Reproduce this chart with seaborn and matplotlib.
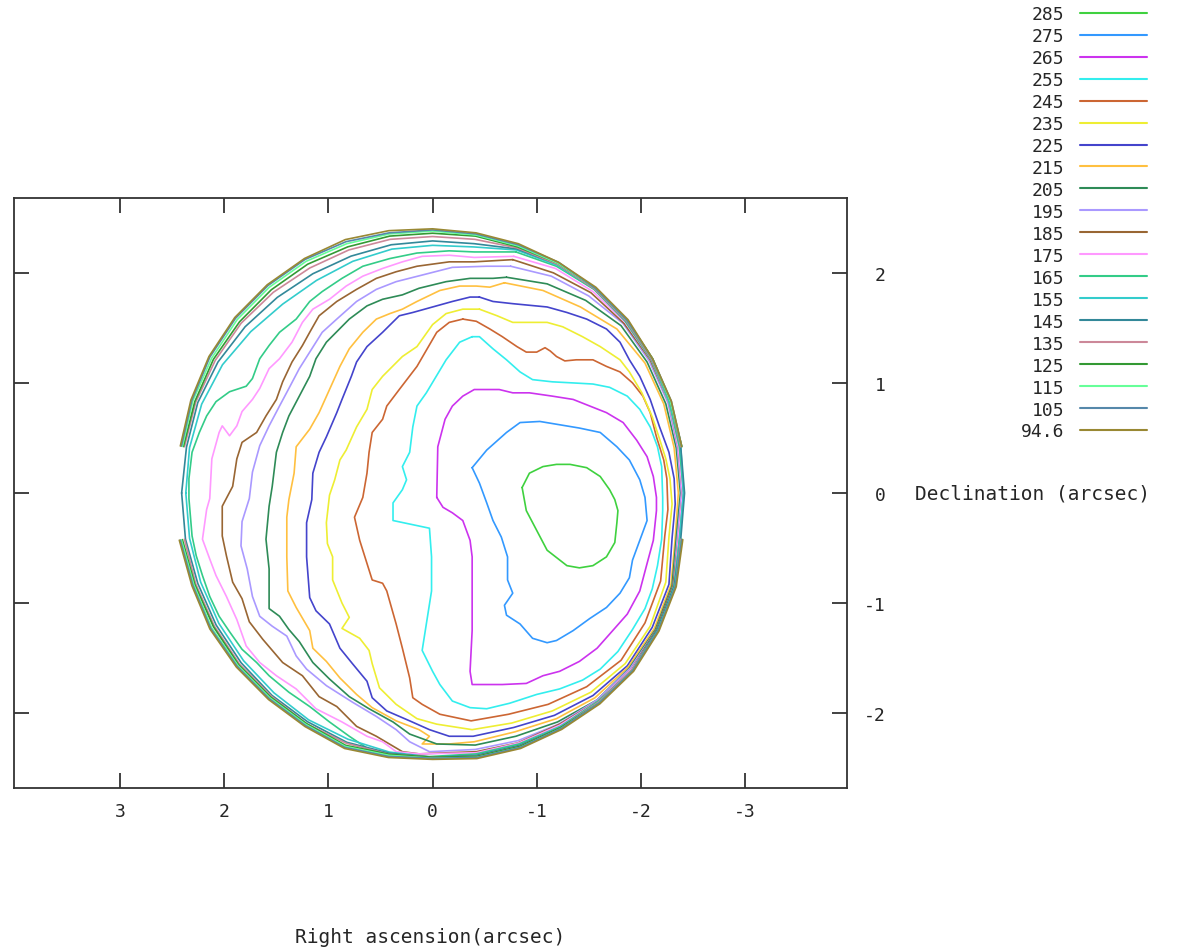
import numpy as np
import pandas as pd
import matplotlib
matplotlib.use("Agg")
import matplotlib.pyplot as plt
import seaborn as sns

sns.set_style("white")
plt.rcParams["font.family"] = ["DejaVu Sans Mono"]
plt.rcParams["axes.unicode_minus"] = False

nan = np.nan

# contour levels as listed in the key (top to bottom) and their line colours
levels = ["285", "275", "265", "255", "245", "235", "225", "215", "205", "195",
          "185", "175", "165", "155", "145", "135", "125", "115", "105", "94.6"]
colors = ["#3fd13f", "#3399ff", "#cc33ee", "#33eeee", "#cc6633", "#eeee33", "#4444cc",
          "#ffc040", "#2e8b57", "#aa99ff", "#996633", "#ff99ff", "#33cc88", "#33cccc",
          "#338899", "#cc8899", "#339933", "#66ff99", "#5588aa", "#998833"]

# closed contours: (RA offset, Dec offset) in arcsec
c285 = [(-0.86, 0.05), (-0.90, -0.16), (-1.00, -0.34), (-1.10, -0.52), (-1.29, -0.66),
        (-1.41, -0.68), (-1.54, -0.66), (-1.67, -0.58), (-1.75, -0.45), (-1.77, -0.27),
        (-1.78, -0.16), (-1.75, -0.06), (-1.70, 0.03), (-1.61, 0.15), (-1.48, 0.23),
        (-1.32, 0.26), (-1.19, 0.26), (-1.06, 0.24), (-0.93, 0.18)]

c275 = [(-0.38, 0.23), (-0.52, 0.39), (-0.71, 0.55), (-0.84, 0.64), (-1.03, 0.65),
        (-1.22, 0.62), (-1.41, 0.59), (-1.61, 0.55), (-1.77, 0.42), (-1.89, 0.30),
        (-1.99, 0.12), (-2.04, -0.04), (-2.06, -0.25), (-1.99, -0.43), (-1.92, -0.61),
        (-1.89, -0.77), (-1.80, -0.91), (-1.67, -1.04), (-1.51, -1.14), (-1.35, -1.25),
        (-1.19, -1.34), (-1.10, -1.36), (-0.96, -1.32), (-0.84, -1.19), (-0.71, -1.11),
        (-0.69, -1.02), (-0.77, -0.91), (-0.72, -0.79), (-0.72, -0.58), (-0.66, -0.40),
        (-0.58, -0.25), (-0.52, -0.09), (-0.45, 0.09)]

c265 = [(-0.04, -0.04), (-0.05, 0.42), (-0.12, 0.67), (-0.19, 0.79), (-0.29, 0.88),
        (-0.40, 0.94), (-0.64, 0.94), (-0.77, 0.91), (-0.93, 0.91), (-1.15, 0.88),
        (-1.35, 0.85), (-1.51, 0.79), (-1.67, 0.73), (-1.83, 0.64), (-1.96, 0.48),
        (-2.06, 0.33), (-2.12, 0.15), (-2.15, -0.04), (-2.15, -0.16), (-2.12, -0.43),
        (-2.06, -0.64), (-1.99, -0.89), (-1.87, -1.10), (-1.73, -1.25), (-1.58, -1.41),
        (-1.41, -1.53), (-1.22, -1.62), (-1.06, -1.66), (-0.90, -1.73), (-0.67, -1.74),
        (-0.38, -1.74), (-0.36, -1.62), (-0.38, -1.25), (-0.38, -0.89), (-0.38, -0.58),
        (-0.36, -0.43), (-0.29, -0.25), (-0.19, -0.18), (-0.10, -0.13)]

c255 = [(-0.38, 1.42), (-0.26, 1.37), (-0.13, 1.21), (0.06, 0.91), (0.15, 0.79),
        (0.19, 0.60), (0.22, 0.37), (0.29, 0.24), (0.25, 0.12), (0.29, 0.03),
        (0.38, -0.09), (0.38, -0.25), (0.03, -0.32), (0.01, -0.58), (0.01, -0.89),
        (0.06, -1.19), (0.10, -1.43), (0.00, -1.62), (-0.07, -1.74), (-0.19, -1.89),
        (-0.36, -1.95), (-0.52, -1.96), (-0.74, -1.91), (-1.00, -1.83), (-1.22, -1.78),
        (-1.44, -1.70), (-1.61, -1.60), (-1.78, -1.44), (-1.92, -1.24), (-2.04, -1.05),
        (-2.11, -0.87), (-2.16, -0.66), (-2.20, -0.42), (-2.21, -0.16), (-2.21, -0.04),
        (-2.20, 0.24), (-2.16, 0.42), (-2.09, 0.60), (-1.99, 0.76), (-1.87, 0.88),
        (-1.70, 0.96), (-1.54, 0.99), (-1.35, 1.00), (-1.15, 1.01), (-0.96, 1.03),
        (-0.84, 1.10), (-0.71, 1.21), (-0.58, 1.31), (-0.45, 1.42)]

c245 = [(-0.29, 1.58), (-0.16, 1.55), (-0.04, 1.46), (0.15, 1.15), (0.32, 0.94),
        (0.44, 0.79), (0.48, 0.67), (0.58, 0.55), (0.61, 0.37), (0.63, 0.18),
        (0.67, -0.04), (0.75, -0.22), (0.70, -0.43), (0.63, -0.64), (0.58, -0.79),
        (0.48, -0.82), (0.44, -0.89), (0.35, -1.19), (0.29, -1.41), (0.22, -1.68),
        (0.19, -1.86), (0.10, -1.92), (-0.07, -2.01), (-0.37, -2.07), (-0.73, -2.01),
        (-1.11, -1.92), (-1.48, -1.76), (-1.81, -1.52), (-2.04, -1.18), (-2.19, -0.80),
        (-2.23, -0.39), (-2.26, -0.15), (-2.25, 0.13), (-2.22, 0.30), (-2.15, 0.51),
        (-2.09, 0.73), (-2.02, 0.88), (-1.92, 1.00), (-1.80, 1.10), (-1.67, 1.15),
        (-1.54, 1.21), (-1.38, 1.21), (-1.27, 1.20), (-1.19, 1.24), (-1.13, 1.29),
        (-1.08, 1.32), (-1.00, 1.28), (-0.90, 1.28), (-0.81, 1.33), (-0.67, 1.42),
        (-0.55, 1.49), (-0.42, 1.56)]

c235 = [(-0.45, 1.67), (-0.29, 1.67), (-0.13, 1.63), (0.00, 1.53), (0.15, 1.33),
        (0.29, 1.24), (0.48, 1.06), (0.58, 0.94), (0.63, 0.76), (0.73, 0.60),
        (0.83, 0.39), (0.89, 0.30), (0.94, 0.12), (0.99, -0.02), (1.02, -0.27),
        (1.01, -0.46), (0.96, -0.58), (0.96, -0.79), (0.87, -1.00), (0.80, -1.13),
        (0.87, -1.23), (0.70, -1.32), (0.61, -1.43), (0.58, -1.55), (0.51, -1.77),
        (0.35, -1.92), (0.15, -2.05), (-0.04, -2.10), (-0.38, -2.15), (-0.76, -2.09),
        (-1.15, -1.98), (-1.52, -1.81), (-1.85, -1.55), (-2.09, -1.21), (-2.24, -0.81),
        (-2.27, -0.40), (-2.30, -0.10), (-2.28, 0.13), (-2.24, 0.31), (-2.18, 0.49),
        (-2.11, 0.69), (-2.01, 0.91), (-1.89, 1.10), (-1.80, 1.21), (-1.61, 1.33),
        (-1.44, 1.42), (-1.25, 1.51), (-1.10, 1.55), (-0.77, 1.55), (-0.62, 1.61)]

c225 = [(-0.45, 1.78), (-0.36, 1.78), (-0.19, 1.74), (0.00, 1.69), (0.19, 1.64),
        (0.32, 1.61), (0.48, 1.46), (0.63, 1.33), (0.73, 1.19), (0.78, 1.06),
        (0.87, 0.85), (0.92, 0.73), (1.02, 0.51), (1.09, 0.37), (1.15, 0.18),
        (1.16, -0.06), (1.21, -0.27), (1.21, -0.58), (1.18, -0.95), (1.12, -1.07),
        (0.99, -1.19), (0.89, -1.41), (0.77, -1.55), (0.63, -1.71), (0.58, -1.86),
        (0.44, -1.98), (0.22, -2.07), (0.03, -2.15), (-0.16, -2.21), (-0.39, -2.21),
        (-0.78, -2.13), (-1.17, -2.02), (-1.54, -1.84), (-1.87, -1.57), (-2.11, -1.22),
        (-2.27, -0.83), (-2.30, -0.41), (-2.33, -0.10), (-2.32, 0.13), (-2.27, 0.37),
        (-2.18, 0.60), (-2.09, 0.85), (-1.99, 1.06), (-1.89, 1.21), (-1.80, 1.37),
        (-1.67, 1.49), (-1.48, 1.58), (-1.29, 1.64), (-1.10, 1.69), (-0.77, 1.72),
        (-0.58, 1.74)]

c215 = [(-0.69, 1.91), (-0.55, 1.87), (-0.42, 1.88), (-0.26, 1.88), (-0.07, 1.84),
        (0.15, 1.74), (0.29, 1.67), (0.41, 1.63), (0.54, 1.58), (0.67, 1.46),
        (0.80, 1.31), (0.89, 1.15), (0.99, 0.94), (1.09, 0.73), (1.18, 0.58),
        (1.31, 0.42), (1.33, 0.18), (1.38, -0.06), (1.40, -0.22), (1.40, -0.58),
        (1.39, -0.89), (1.31, -1.04), (1.18, -1.25), (1.15, -1.41), (1.02, -1.53),
        (0.89, -1.68), (0.73, -1.83), (0.58, -1.95), (0.35, -2.07), (0.13, -2.15),
        (0.03, -2.21), (0.10, -2.28), (-0.16, -2.28), (-0.40, -2.26), (-0.79, -2.17),
        (-1.19, -2.05), (-1.56, -1.86), (-1.88, -1.58), (-2.13, -1.23), (-2.29, -0.83),
        (-2.33, -0.41), (-2.36, 0.00), (-2.32, 0.41), (-2.22, 0.81), (-2.04, 1.18),
        (-1.77, 1.49), (-1.42, 1.69), (-1.06, 1.84)]

c205 = [(-0.71, 1.96), (-0.58, 1.95), (-0.36, 1.95), (-0.13, 1.92), (0.13, 1.86),
        (0.29, 1.80), (0.48, 1.76), (0.63, 1.70), (0.80, 1.58), (1.02, 1.37),
        (1.12, 1.22), (1.18, 1.06), (1.28, 0.88), (1.38, 0.70), (1.44, 0.55),
        (1.50, 0.37), (1.54, 0.06), (1.57, -0.12), (1.60, -0.42), (1.57, -0.69),
        (1.57, -1.05), (1.47, -1.12), (1.38, -1.24), (1.28, -1.35), (1.15, -1.54),
        (0.99, -1.69), (0.80, -1.85), (0.61, -1.96), (0.38, -2.08), (0.22, -2.19),
        (-0.04, -2.28), (-0.41, -2.29), (-0.80, -2.21), (-1.20, -2.08), (-1.58, -1.88),
        (-1.89, -1.59), (-2.14, -1.24), (-2.30, -0.84), (-2.34, -0.41), (-2.38, 0.00),
        (-2.34, 0.41), (-2.24, 0.81), (-2.06, 1.19), (-1.81, 1.52), (-1.47, 1.75),
        (-1.10, 1.90)]

c195 = [(-0.75, 2.06), (-0.52, 2.06), (-0.19, 2.05), (0.10, 1.98), (0.35, 1.92),
        (0.54, 1.85), (0.73, 1.74), (0.92, 1.58), (1.06, 1.46), (1.18, 1.28),
        (1.28, 1.13), (1.38, 0.95), (1.47, 0.79), (1.57, 0.61), (1.66, 0.43),
        (1.73, 0.19), (1.76, -0.05), (1.83, -0.26), (1.84, -0.48), (1.78, -0.69),
        (1.73, -0.94), (1.66, -1.12), (1.54, -1.21), (1.40, -1.30), (1.31, -1.48),
        (1.21, -1.60), (1.02, -1.75), (0.77, -1.90), (0.54, -2.03), (0.35, -2.15),
        (0.22, -2.26), (0.03, -2.35), (-0.41, -2.33), (-0.82, -2.25), (-1.21, -2.10),
        (-1.58, -1.88), (-1.90, -1.59), (-2.15, -1.24), (-2.31, -0.84), (-2.35, -0.42),
        (-2.39, 0.00), (-2.35, 0.42), (-2.26, 0.82), (-2.08, 1.20), (-1.83, 1.54),
        (-1.50, 1.79), (-1.14, 1.97)]

c185 = [(-0.77, 2.12), (-0.40, 2.10), (-0.16, 2.10), (0.15, 2.06), (0.35, 2.01),
        (0.54, 1.95), (0.73, 1.85), (0.92, 1.74), (1.09, 1.61), (1.18, 1.46),
        (1.25, 1.34), (1.35, 1.19), (1.44, 1.01), (1.50, 0.85), (1.60, 0.70),
        (1.69, 0.55), (1.83, 0.46), (1.88, 0.31), (1.92, 0.06), (2.02, -0.12),
        (2.02, -0.39), (1.98, -0.57), (1.92, -0.81), (1.83, -0.96), (1.76, -1.17),
        (1.63, -1.33), (1.44, -1.54), (1.25, -1.66), (1.09, -1.85), (0.92, -1.94),
        (0.73, -2.12), (0.54, -2.21), (0.29, -2.35), (0.13, -2.37), (-0.42, -2.35),
        (-0.82, -2.27), (-1.22, -2.10), (-1.59, -1.89), (-1.91, -1.60), (-2.15, -1.24),
        (-2.31, -0.84), (-2.36, -0.42), (-2.40, 0.00), (-2.36, 0.42), (-2.27, 0.82),
        (-2.09, 1.21), (-1.84, 1.54), (-1.52, 1.82), (-1.16, 2.00)]

c175 = [(-0.78, 2.15), (-0.40, 2.14), (-0.16, 2.16), (0.10, 2.15), (0.29, 2.10),
        (0.48, 2.04), (0.67, 1.97), (0.83, 1.88), (0.99, 1.76), (1.15, 1.67),
        (1.25, 1.55), (1.35, 1.37), (1.47, 1.22), (1.57, 1.13), (1.66, 0.95),
        (1.73, 0.85), (1.83, 0.74), (1.88, 0.61), (1.95, 0.52), (2.02, 0.61),
        (2.05, 0.55), (2.12, 0.31), (2.14, -0.05), (2.17, -0.15), (2.21, -0.42),
        (2.14, -0.60), (2.08, -0.75), (1.98, -0.94), (1.88, -1.15), (1.79, -1.39),
        (1.66, -1.54), (1.50, -1.66), (1.31, -1.78), (1.12, -1.96), (0.87, -2.08),
        (0.63, -2.21), (0.48, -2.26), (0.35, -2.35), (0.13, -2.37), (-0.42, -2.36),
        (-0.83, -2.27), (-1.22, -2.11), (-1.59, -1.89), (-1.91, -1.60), (-2.16, -1.25),
        (-2.32, -0.84), (-2.36, -0.42), (-2.40, 0.00), (-2.36, 0.42), (-2.27, 0.82),
        (-2.10, 1.21), (-1.85, 1.55), (-1.54, 1.83), (-1.18, 2.04)]

c165 = [(-0.80, 2.19), (-0.40, 2.19), (-0.16, 2.20), (0.15, 2.18), (0.41, 2.13),
        (0.67, 2.06), (0.87, 1.95), (1.06, 1.83), (1.18, 1.74), (1.31, 1.58),
        (1.47, 1.46), (1.57, 1.34), (1.66, 1.22), (1.73, 1.04), (1.79, 0.97),
        (1.95, 0.92), (2.08, 0.83), (2.17, 0.70), (2.24, 0.55), (2.31, 0.37),
        (2.34, 0.13), (2.34, -0.05), (2.31, -0.39), (2.27, -0.57), (2.21, -0.75),
        (2.14, -0.94), (2.05, -1.12), (1.95, -1.26), (1.83, -1.42), (1.69, -1.54),
        (1.57, -1.66), (1.38, -1.81), (1.18, -1.94), (0.99, -2.08), (0.80, -2.21),
        (0.61, -2.33), (0.48, -2.39), (0.13, -2.40), (-0.42, -2.37), (-0.83, -2.28),
        (-1.23, -2.12), (-1.59, -1.89), (-1.92, -1.61), (-2.16, -1.25), (-2.32, -0.84),
        (-2.37, -0.42), (-2.41, 0.00), (-2.37, 0.42), (-2.27, 0.83), (-2.10, 1.21),
        (-1.85, 1.56), (-1.55, 1.85), (-1.19, 2.06)]

# rim contours hugging the limb: radius (arcsec) every 10 deg, 0 deg = +RA,
# counter-clockwise; nan where the contour is broken
rim_deg = list(range(0, 360, 10))
rim155 = [2.37, 2.37, 2.36, 2.33, 2.28, 2.24, 2.23, 2.24, 2.25, 2.25, 2.27, 2.35,
          2.39, 2.42, 2.43, 2.43, 2.42, 2.42, 2.41, 2.41, 2.47, 2.49, 2.50, 2.48,
          2.45, 2.44, 2.42, 2.40, 2.39, 2.38, 2.38, 2.37, 2.37, 2.37, 2.37, 2.37]
rim145 = [2.41, 2.40, 2.40, 2.38, 2.35, 2.32, 2.30, 2.29, 2.29, 2.29, 2.30, 2.36,
          2.40, 2.42, 2.43, 2.43, 2.43, 2.42, 2.42, 2.42, 2.47, 2.49, 2.50, 2.48,
          2.46, 2.44, 2.42, 2.40, 2.40, 2.41, 2.40, 2.40, 2.40, 2.40, 2.40, 2.41]
rim135 = [nan, 2.42, 2.42, 2.41, 2.40, 2.38, 2.36, 2.35, 2.34, 2.33, 2.34, 2.37,
          2.40, 2.42, 2.43, 2.43, 2.43, 2.42, nan, 2.42, 2.48, 2.50, 2.50, 2.48,
          2.46, 2.45, 2.43, 2.40, 2.41, 2.42, 2.42, 2.41, 2.42, 2.42, 2.42, 2.42]
rim125 = [nan, 2.43, 2.43, 2.43, 2.42, 2.41, 2.40, 2.38, 2.37, 2.36, 2.37, 2.38,
          2.41, 2.43, 2.44, 2.44, 2.43, 2.43, nan, 2.43, 2.48, 2.50, 2.51, 2.49,
          2.46, 2.45, 2.43, 2.40, 2.41, 2.44, 2.42, 2.42, 2.43, 2.43, 2.43, 2.44]
rim115 = [nan, 2.44, 2.45, 2.45, 2.45, 2.44, 2.43, 2.41, 2.39, 2.38, 2.38, 2.39,
          2.41, 2.43, 2.44, 2.44, 2.43, 2.43, nan, 2.43, 2.48, 2.50, 2.51, 2.49,
          2.47, 2.46, 2.44, 2.41, 2.42, 2.45, 2.43, 2.43, 2.44, 2.45, 2.44, 2.45]
rim105 = [nan, 2.45, 2.46, 2.47, 2.47, 2.46, 2.45, 2.43, 2.40, 2.39, 2.39, 2.40,
          2.42, 2.43, 2.44, 2.44, 2.44, 2.43, nan, 2.43, 2.48, 2.50, 2.51, 2.49,
          2.47, 2.46, 2.44, 2.41, 2.43, 2.46, 2.44, 2.44, 2.45, 2.46, 2.45, 2.46]
rim946 = [nan, 2.46, 2.47, 2.48, 2.48, 2.47, 2.46, 2.45, 2.42, 2.40, 2.40, 2.41,
          2.42, 2.44, 2.45, 2.44, 2.44, 2.43, nan, 2.44, 2.49, 2.51, 2.52, 2.50,
          2.48, 2.47, 2.45, 2.42, 2.44, 2.47, 2.45, 2.45, 2.46, 2.47, 2.46, 2.47]

paths = {"285": c285, "275": c275, "265": c265, "255": c255, "245": c245,
         "235": c235, "225": c225, "215": c215, "205": c205, "195": c195,
         "185": c185, "175": c175, "165": c165}
rims = {"155": rim155, "145": rim145, "135": rim135, "125": rim125,
        "115": rim115, "105": rim105, "94.6": rim946}

rows = []
for lev, pts in paths.items():
    pts = pts + [pts[0]]
    for i, (ra, dec) in enumerate(pts):
        rows.append((lev, lev + "_0", i, ra, dec))
for lev, rr in rims.items():
    rr = list(rr) + [rr[0]]
    th = np.deg2rad(rim_deg + [360])
    seg = 0
    for i, (r, t) in enumerate(zip(rr, th)):
        if np.isnan(r):
            seg += 1
            continue
        rows.append((lev, f"{lev}_{seg}", i, r * np.cos(t), r * np.sin(t)))
df = pd.DataFrame(rows, columns=["level", "seg", "order", "ra", "dec"])

fig = plt.figure(figsize=(11.99, 9.53), dpi=100)
ax = fig.add_axes([14 / 1199, 1 - 789 / 953, 833 / 1199, 590 / 953])

sns.lineplot(data=df, x="ra", y="dec", hue="level", hue_order=levels,
             palette=dict(zip(levels, colors)), units="seg", estimator=None,
             sort=False, linewidth=1.2, ax=ax)

ax.set_xlim(4.02, -3.98)
ax.set_ylim(-2.68, 2.68)
ax.set_xticks([3, 2, 1, 0, -1, -2, -3])
ax.set_yticks([-2, -1, 0, 1, 2])
ax.set_xlabel("")
ax.set_ylabel("")
ax.tick_params(axis="both", direction="in", length=11, width=1.3, color="#333333",
               top=True, bottom=True, left=True, right=True,
               labelleft=False, labelright=True, labelsize=13)
ax.tick_params(axis="x", pad=10)
ax.tick_params(axis="y", pad=28)
for tick in ax.yaxis.get_major_ticks():
    tick.label2.set_horizontalalignment("right")
for s in ax.spines.values():
    s.set_linewidth(1.3)
    s.set_color("#333333")

leg = ax.get_legend()
handles = leg.legend_handles
labels = [t.get_text() for t in leg.get_texts()]
leg.remove()
for h in handles:
    h.set_linewidth(1.5)
fs = 13
fig.legend(handles, labels, loc="upper right", bbox_to_anchor=(1147 / 1199, 1 - 6 / 953),
           frameon=False, markerfirst=False, fontsize=fs, borderpad=0, borderaxespad=0,
           handlelength=67 / (fs * 100 / 72), handletextpad=16 / (fs * 100 / 72),
           labelspacing=0.22)

fig.text(430 / 1199, 1 - 938 / 953, "Right ascension(arcsec)", ha="center", va="center",
         fontsize=14)
fig.text(915 / 1199, 1 - 494 / 953, "Declination (arcsec)", ha="left", va="center",
         fontsize=14)

fig.savefig("out.png", dpi=100)
